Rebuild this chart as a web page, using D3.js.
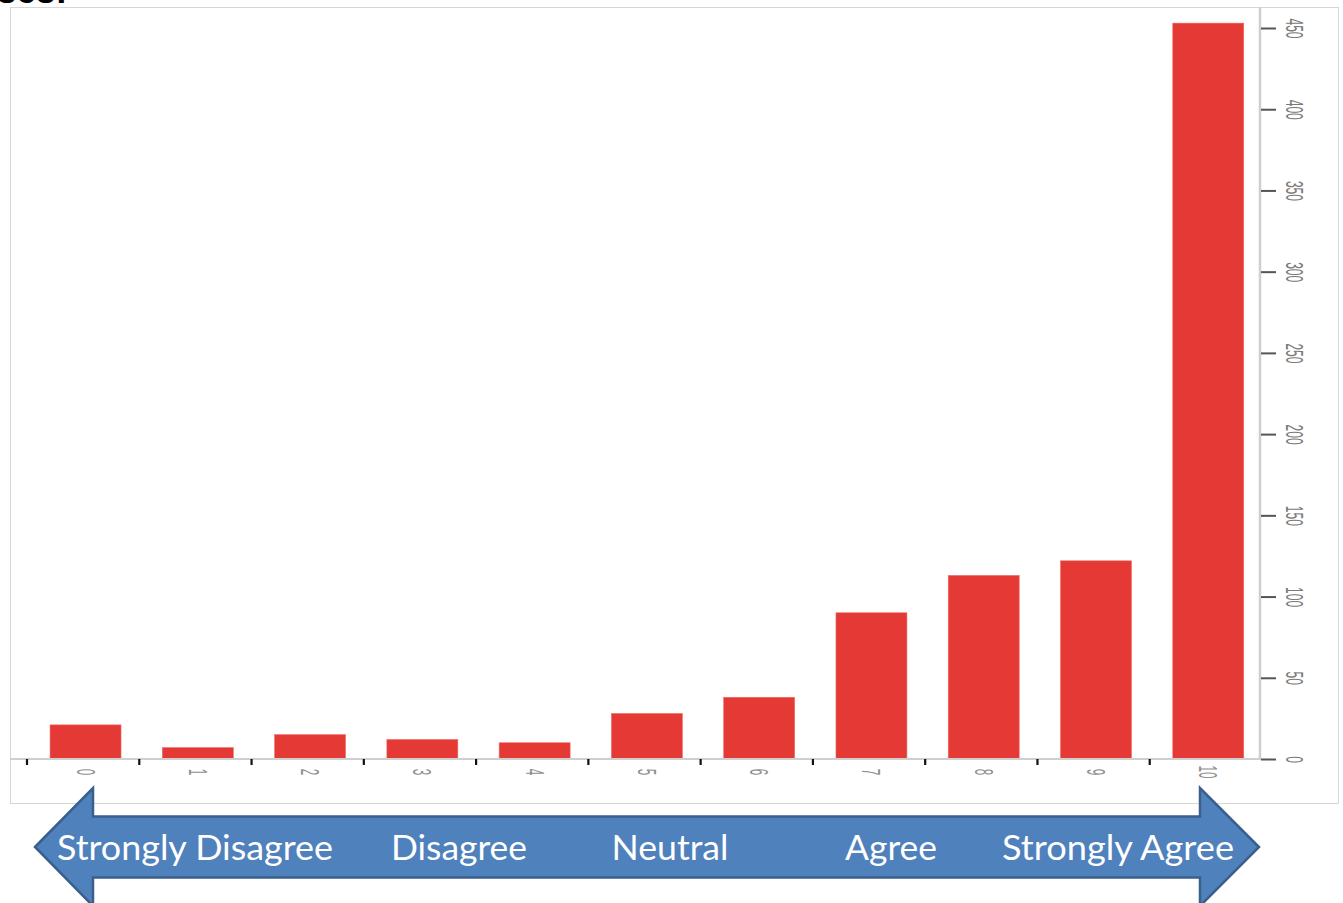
<!DOCTYPE html>
<html>
<head>
<meta charset="utf-8">
<script src="https://cdn.jsdelivr.net/npm/d3@7"></script>
<style>
  html, body { margin: 0; padding: 0; background: #ffffff; }
  svg { display: block; }
</style>
</head>
<body>
<script>
// Survey responses on a 0–10 agreement scale
const categories = ["0", "1", "2", "3", "4", "5", "6", "7", "8", "9", "10"];
const counts = [21, 7, 15, 12, 10, 28, 38, 90, 113, 122, 453];
const yTicks = [0, 50, 100, 150, 200, 250, 300, 350, 400, 450];
const scaleLabels = ["Strongly Disagree", "Disagree", "Neutral", "Agree", "Strongly Agree"];
const scaleLabelX = [195, 459, 670, 891, 1118];
const scaleLabelWidth = [276, 136, 117, 92, 232];

const W = 1343, H = 903;
const svg = d3.select("body").append("svg")
  .attr("width", W).attr("height", H);

// Heading text, mostly above the visible area
svg.append("text")
  .attr("x", -3).attr("y", 3)
  .attr("font-family", "Liberation Sans, Arial, sans-serif")
  .attr("font-weight", "bold")
  .attr("font-size", 35)
  .attr("fill", "#000")
  .text("ses:");

// Chart frame
svg.append("rect")
  .attr("x", 10.5).attr("y", 7.5)
  .attr("width", 1328).attr("height", 796)
  .attr("fill", "none")
  .attr("stroke", "#d6d6d6")
  .attr("stroke-width", 1);

const plot = { left: 10, right: 1260, top: 7, bottom: 759 };

// Scales
const y = d3.scaleLinear().domain([0, 450]).range([plot.bottom, 28]);
const xTick = d3.scaleBand().domain(categories).range([27, 1262]).padding(0);
const xBar = d3.scaleBand().domain(categories).range([29.4, 1264.4])
  .paddingInner(0.368).paddingOuter(0.184);

// Bars
svg.append("g").selectAll("rect")
  .data(categories)
  .join("rect")
  .attr("x", (d) => xBar(d))
  .attr("width", xBar.bandwidth())
  .attr("y", (d, i) => y(counts[i]))
  .attr("height", (d, i) => y(0) - y(counts[i]))
  .attr("fill", "#e43934")
  .attr("stroke", "#ef6a64")
  .attr("stroke-width", 0.6);

// Axis lines
svg.append("line")
  .attr("x1", plot.left).attr("x2", plot.right + 1)
  .attr("y1", plot.bottom).attr("y2", plot.bottom)
  .attr("stroke", "#cfcfcf").attr("stroke-width", 2);
svg.append("line")
  .attr("x1", plot.right).attr("x2", plot.right)
  .attr("y1", plot.top).attr("y2", plot.bottom)
  .attr("stroke", "#cfcfcf").attr("stroke-width", 2.5);

// Right-hand value axis
const yAxis = d3.axisRight(y).tickValues(yTicks).tickSize(15).tickPadding(0)
  .tickFormat(d3.format("d"));
const yg = svg.append("g")
  .attr("transform", `translate(${plot.right + 1},0)`)
  .call(yAxis);
yg.select(".domain").remove();
yg.selectAll(".tick line").attr("stroke", "#555").attr("stroke-width", 2);
yg.selectAll(".tick text")
  .attr("x", null).attr("dy", null)
  .attr("text-anchor", "middle")
  .attr("dominant-baseline", "central")
  .attr("transform", "translate(33,0) rotate(90) scale(0.5,1)")
  .attr("font-family", "Liberation Sans Narrow, Liberation Sans, Arial, sans-serif")
  .attr("font-size", 24)
  .attr("fill", "#7a7a7a");

// Category axis: ticks at band boundaries, labels at bar centres
svg.append("g").selectAll("line")
  .data(categories)
  .join("line")
  .attr("x1", (d) => xTick(d)).attr("x2", (d) => xTick(d))
  .attr("y1", plot.bottom).attr("y2", plot.bottom + 6)
  .attr("stroke", "#111").attr("stroke-width", 2.2);

svg.append("g").selectAll("text")
  .data(categories)
  .join("text")
  .attr("transform", (d) =>
    `translate(${xBar(d) + xBar.bandwidth() / 2},${plot.bottom + 13}) rotate(90) scale(0.45,1)`)
  .attr("text-anchor", "middle")
  .attr("dominant-baseline", "central")
  .attr("font-family", "Liberation Sans Narrow, Liberation Sans, Arial, sans-serif")
  .attr("font-size", 26)
  .attr("fill", "#8f8f8f")
  .text((d) => d);

// Agreement scale arrow
const arrow = d3.path();
const ay = 847, headHalf = 59, shaftHalf = 30.5;
const leftTip = 35, leftBase = 93, rightBase = 1200, rightTip = 1259;
arrow.moveTo(leftTip, ay);
arrow.lineTo(leftBase, ay - headHalf);
arrow.lineTo(leftBase, ay - shaftHalf);
arrow.lineTo(rightBase, ay - shaftHalf);
arrow.lineTo(rightBase, ay - headHalf);
arrow.lineTo(rightTip, ay);
arrow.lineTo(rightBase, ay + headHalf);
arrow.lineTo(rightBase, ay + shaftHalf);
arrow.lineTo(leftBase, ay + shaftHalf);
arrow.lineTo(leftBase, ay + headHalf);
arrow.closePath();
svg.append("path")
  .attr("d", arrow.toString())
  .attr("fill", "#4f81bd")
  .attr("stroke", "#3a5f8c")
  .attr("stroke-width", 2.5)
  .attr("stroke-linejoin", "miter");

svg.append("g").selectAll("text")
  .data(scaleLabels)
  .join("text")
  .attr("x", (d, i) => scaleLabelX[i])
  .attr("y", 860)
  .attr("text-anchor", "middle")
  .attr("textLength", (d, i) => scaleLabelWidth[i])
  .attr("lengthAdjust", "spacingAndGlyphs")
  .attr("font-family", "Lato, Open Sans, sans-serif")
  .attr("font-size", 35)
  .attr("fill", "#ffffff")
  .text((d) => d);
</script>
</body>
</html>
